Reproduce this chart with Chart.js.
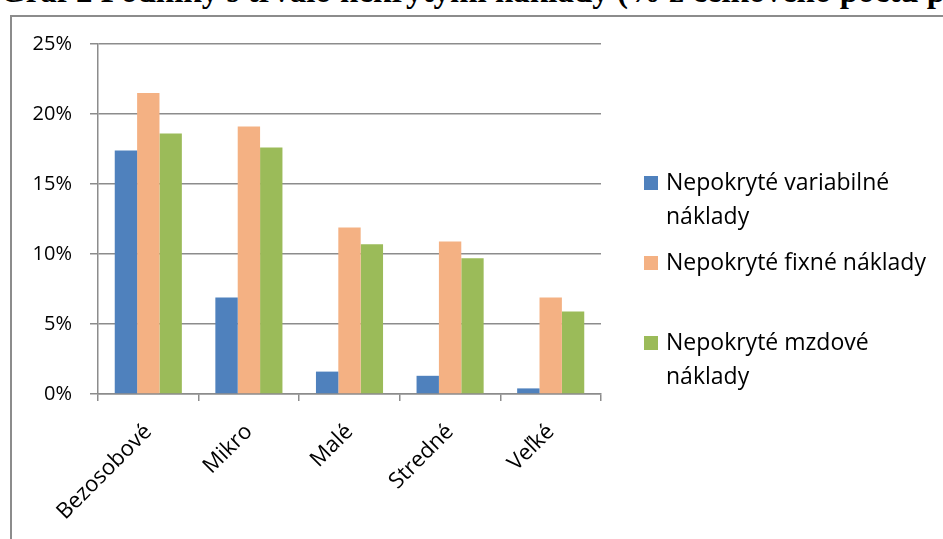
<!DOCTYPE html>
<html>
<head>
<meta charset="utf-8">
<script src="https://cdn.jsdelivr.net/npm/chart.js@4"></script>
<style>
  html, body { margin: 0; padding: 0; background: #fff; overflow: hidden; }
  #wrap { position: relative; width: 943px; height: 539px; overflow: hidden; }
  #title {
    position: absolute; left: 0; top: -27px; white-space: nowrap; line-height: normal;
    font: bold 33px "Liberation Serif", serif; color: #000;
  }
  #frame {
    position: absolute; left: 10px; top: 15px; width: 1000px; height: 600px;
    border-left: 2px solid #8c8c8c; border-top: 2px solid #8c8c8c;
  }
  #chart { position: absolute; left: 0; top: 0; }
</style>
</head>
<body>
<div id="wrap">
  <div id="title"></div>
  <div id="frame"></div>
  <canvas id="chart" width="943" height="539"></canvas>
</div>
<script>
// ── DATA ──
const titleHead   = 'Graf 2 Podniky s trvalo nekrytými náklady ';
const titleTail   = '(% z celkového počtu podnikov)';
const categories  = ['Bezosobové', 'Mikro', 'Malé', 'Stredné', 'Veľké'];
const variabilne  = [17.4, 6.9, 1.6, 1.3, 0.4];
const fixne       = [21.5, 19.1, 11.9, 10.9, 6.9];
const mzdove      = [18.6, 17.6, 10.7, 9.7, 5.9];
const seriesNames = [
  ['Nepokryté variabilné', 'náklady'],
  ['Nepokryté fixné náklady'],
  ['Nepokryté mzdové', 'náklady'],
];
const yTicks = [0, 5, 10, 15, 20, 25];

const COLORS = {
  blue:   '#4f81bd',
  orange: '#f4b183',
  green:  '#9bbb59',
  grid:   '#8c8c8c',
};

const FONT = "'Open Sans', sans-serif";

// ── TITLE (cut off at the top, as in the scanned page) ──
(function placeTitle() {
  const el = document.getElementById('title');
  el.textContent = titleHead + titleTail;
  const m = document.createElement('canvas').getContext('2d');
  m.font = 'bold 33px "Liberation Serif"';
  // the "(" of the tail sits at x ≈ 617
  el.style.left = (617 - m.measureText(titleHead).width) + 'px';
})();

// ── LEGEND (drawn on the canvas, right side) ──
const sideLegend = {
  id: 'sideLegend',
  afterDraw(chart) {
    const ctx = chart.ctx;
    const firstLine = [183, 263, 343];
    const lineH = 34;
    ctx.save();
    ctx.font = '23px ' + FONT;
    ctx.textBaseline = 'middle';
    chart.data.datasets.forEach((ds, i) => {
      const y = firstLine[i];
      ctx.fillStyle = ds.backgroundColor;
      ctx.fillRect(644, y - 7, 14, 14);
      ctx.fillStyle = '#000';
      [].concat(ds.label).forEach((line, j) => {
        ctx.fillText(line, 666, y + j * lineH);
      });
    });
    ctx.restore();
  }
};

new Chart(document.getElementById('chart'), {
  type: 'bar',
  data: {
    labels: categories,
    datasets: [
      { label: seriesNames[0], data: variabilne, backgroundColor: COLORS.blue },
      { label: seriesNames[1], data: fixne,      backgroundColor: COLORS.orange },
      { label: seriesNames[2], data: mzdove,     backgroundColor: COLORS.green },
    ]
  },
  options: {
    responsive: false,
    animation: false,
    layout: { padding: { left: 10, right: 342, top: 44, bottom: 0 } },
    datasets: { bar: { categoryPercentage: 0.667, barPercentage: 1.0, borderWidth: 0 } },
    plugins: { legend: { display: false }, tooltip: { enabled: false } },
    scales: {
      x: {
        offset: true,
        grid: { display: true, drawOnChartArea: false, drawTicks: true, tickLength: 7,
                color: COLORS.grid, lineWidth: 1.5, offset: true },
        border: { color: COLORS.grid, width: 1.5 },
        ticks: { minRotation: 45, maxRotation: 45, color: '#000', padding: 18,
                 font: { family: FONT, size: 22 } },
        afterFit: s => { s.height = 145; },
      },
      y: {
        min: yTicks[0],
        max: yTicks[yTicks.length - 1],
        afterBuildTicks: s => { s.ticks = yTicks.map(v => ({ value: v })); },
        grid: { color: COLORS.grid, lineWidth: 1.5, tickLength: 8 },
        border: { color: COLORS.grid, width: 1.5 },
        ticks: { color: '#000', padding: 18, callback: v => v + '%',
                 font: { family: FONT, size: 20 } },
        afterFit: s => { s.width = 88; },
      }
    }
  },
  plugins: [sideLegend]
});
</script>
</body>
</html>
